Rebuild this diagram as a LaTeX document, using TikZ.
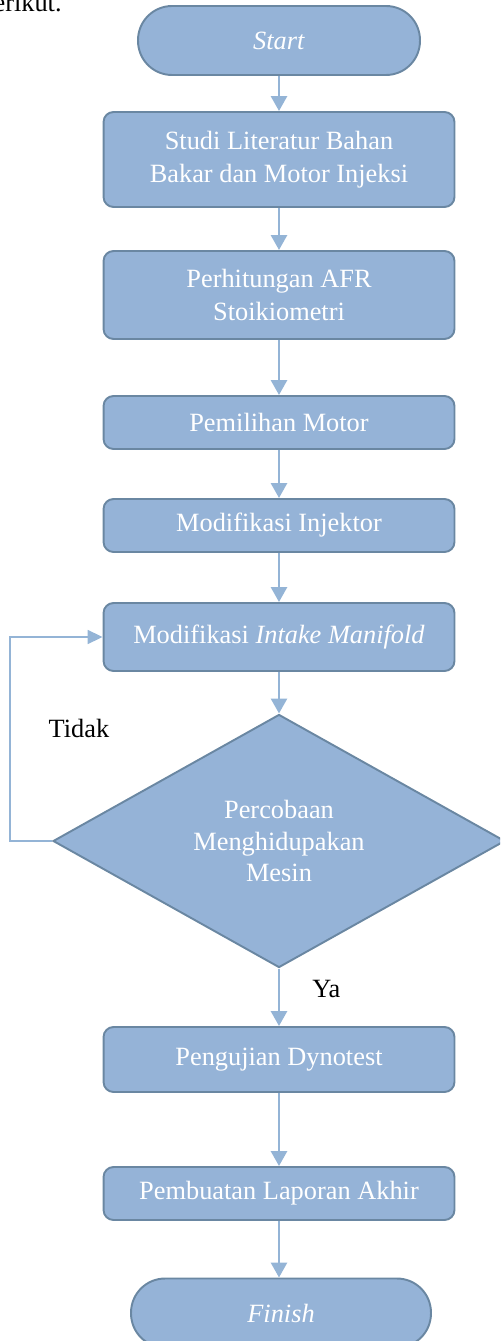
\documentclass[tikz,border=0pt]{standalone}
\usepackage{fontspec}
\setmainfont{Liberation Serif}
\usetikzlibrary{arrows.meta,shapes.geometric}

\definecolor{boxfill}{HTML}{95B3D7}
\definecolor{boxline}{HTML}{6A87A2}
\definecolor{flowline}{HTML}{94B4D6}

\tikzset{
  proc/.style={draw=boxline, fill=boxfill, line width=1.1pt, rounded corners=0.2cm,
    text=white, align=center, inner sep=0pt, minimum width=7.02cm,
    font=\fontsize{15}{18.5}\selectfont},
  term/.style={proc, rounded corners=0.68cm, minimum width=5.64cm, minimum height=1.38cm},
  decide/.style={diamond, draw=boxline, fill=boxfill, line width=1.1pt, text=white,
    align=center, inner sep=0pt, minimum width=9.04cm, minimum height=4.48cm,
    font=\fontsize{15}{18}\selectfont},
  flow/.style={draw=flowline, line width=1.6pt, -{Triangle[length=0.3cm,width=0.32cm]}},
  backflow/.style={draw=flowline, line width=1pt, -{Triangle[length=0.3cm,width=0.28cm]}},
  remark/.style={text=black, inner sep=0pt, font=\fontsize{15}{18}\selectfont}
}

\begin{document}
\begin{tikzpicture}[x=0.02cm, y=-0.02cm]

\def\xm{279}; % main column
\def\xl{10}; % loop line

\useasboundingbox (0,0) rectangle (500,1341);
\clip (0,0) rectangle (500,1341);

\node[remark, anchor=base east] (intro) at (62,12) {berikut.};

\node[term] (start) at (\xm,40.5) {\textit{Start}};
\node[proc, minimum height=1.9cm] (studi) at (\xm,159.5) {Studi Literatur Bahan\\Bakar dan Motor Injeksi};
\node[proc, minimum height=1.76cm] (afr) at (\xm,295) {Perhitungan AFR\\Stoikiometri};
\node[proc, minimum height=1.06cm] (motor) at (\xm,422.5) {Pemilihan Motor};
\node[proc, minimum height=1.06cm] (injektor) at (\xm,525.5) {Modifikasi Injektor};
\node[proc, minimum height=1.36cm] (manifold) at (\xm,637) {Modifikasi \textit{Intake Manifold}};
\node[decide] (coba) at (\xm,841) {Percobaan\\Menghidupakan\\Mesin};
\node[proc, minimum height=1.3cm] (dyno) at (\xm,1059.5) {Pengujian Dynotest};
\node[proc, minimum height=1.06cm] (laporan) at (\xm,1193.5) {Pembuatan Laporan Akhir};
\node[term, minimum width=6cm] (finish) at (\xm+2,1313) {\textit{Finish}};

\node[remark] (tidak) at (79,728) {Tidak};
\node[remark, anchor=west] (ya) at (312,989) {Ya};

\draw[flow] (start) -- (studi);
\draw[flow] (studi) -- (afr);
\draw[flow] (afr) -- (motor);
\draw[flow] (motor) -- (injektor);
\draw[flow] (injektor) -- (manifold);
\draw[flow] (manifold) -- (coba);
\draw[flow] (coba) -- (dyno);
\draw[flow] (dyno) -- (laporan);
\draw[flow] (laporan) -- (laporan |- finish.north);

\coordinate (bend) at (\xl,841);
\draw[backflow] (coba.west) -- (bend) |- (manifold.west);

\end{tikzpicture}
\end{document}
